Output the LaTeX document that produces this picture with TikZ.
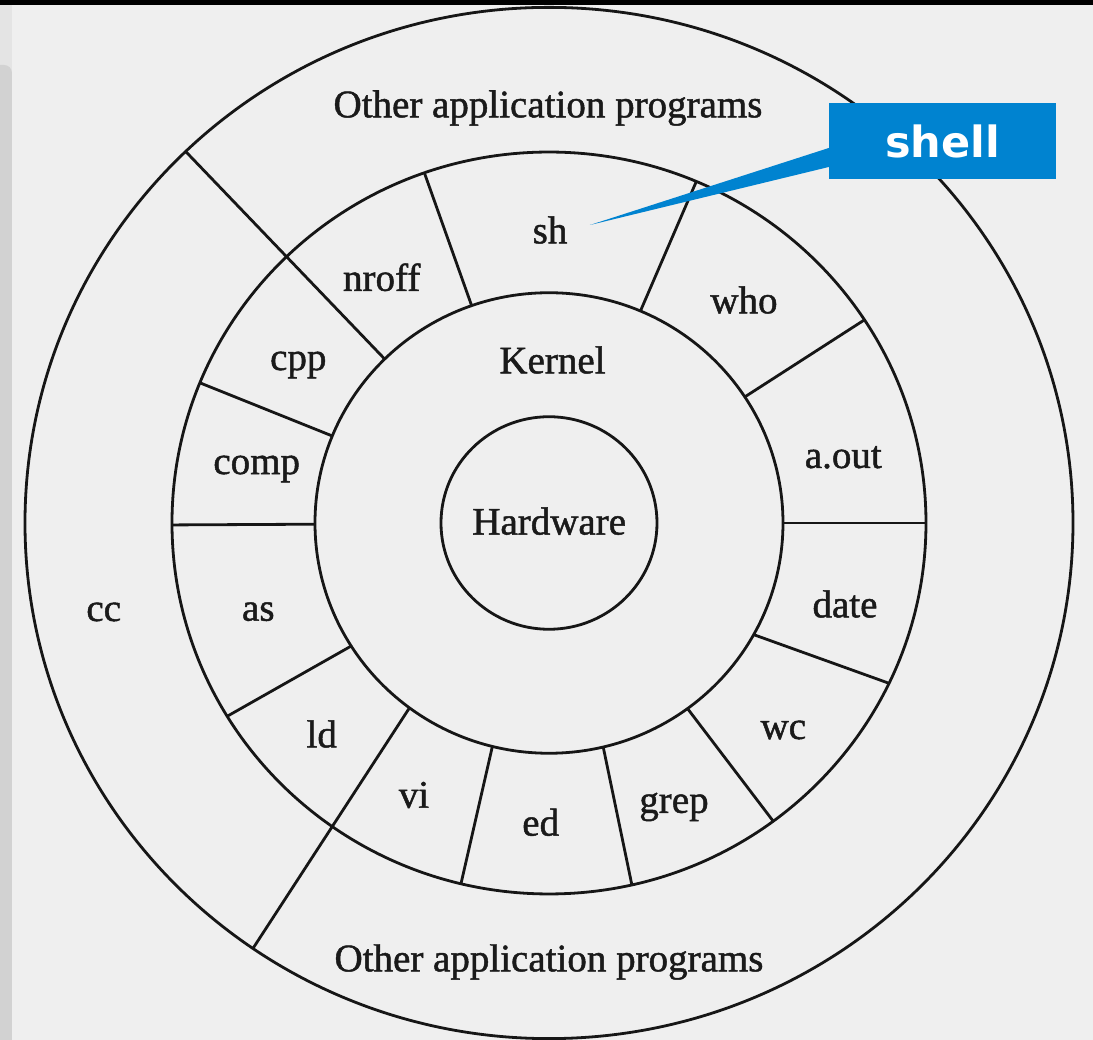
\documentclass[tikz,border=0pt]{standalone}
\usepackage{fontspec}
\setmainfont{Liberation Serif}[FakeBold=1.2]
\newfontfamily\calloutfont{DejaVu Sans}
\definecolor{bgc}{HTML}{EFEFEF}
\definecolor{stripa}{HTML}{E4E4E4}
\definecolor{stripb}{HTML}{D2D2D2}
\definecolor{linec}{HTML}{161616}
\definecolor{textc}{HTML}{1A1A1A}
\definecolor{calloutc}{HTML}{0083D0}
\begin{document}
\begin{tikzpicture}[x=1pt,y=1pt,
  ringline/.style={line width=2.8pt, draw=linec},
  lbl/.style={font=\fontsize{39}{41}\selectfont, text=textc, inner sep=0pt},
  shellbox/.style={fill=calloutc, text=white, minimum width=227pt, minimum height=76pt,
    inner sep=0pt, font=\calloutfont\bfseries\fontsize{43}{45}\selectfont}]
\useasboundingbox (-549,-517) rectangle (544,523);
% background
\fill[bgc] (-549,-517) rectangle (544,523);
\fill[stripa] (-549,-517) rectangle (-537,518);
\fill[stripb, rounded corners=8pt] (-562,-530) rectangle (-537,458);
\fill[black] (-549,518) rectangle (544,523);
% rings (slightly squashed scan)
\begin{scope}[yscale=0.984]
  \draw[ringline] (0,0) circle (108);
  \draw[ringline] (0,0) circle (234);
  \draw[ringline] (0,0) circle (377);
  \draw[ringline] (0,0) circle (524);
  % utility dividers
  \draw[ringline] (109.3:234) -- (109.3:377);
  \draw[ringline] (134.6:234) -- (133.9:524);
  \draw[ringline] (157.8:234) -- (157.8:377);
  \draw[ringline] (180.3:234) -- (180.3:377);
  \draw[ringline] (212.3:234) -- (211.4:377);
  \draw[ringline] (233.4:234) -- (235.6:524);
  \draw[ringline] (256:234) -- (256.5:377);
  \draw[ringline] (283.4:234) -- (282.7:377);
  \draw[ringline] (306.3:234) -- (306.5:377);
  \draw[ringline] (331:234) -- (334.4:377);
  \draw[ringline] (0:234) -- (0:377);
  \draw[ringline] (33.2:234) -- (33.2:377);
  \draw[ringline] (67:234) -- (67:377);
\end{scope}
% labels
\node[lbl] (hw) at (0.2,1.8) {Hardware};
\node[lbl] (kernel) at (3.5,163) {Kernel};
\node[lbl] (sh) at (1,293) {sh};
\node[lbl] (nroff) at (-167.3,245.7) {nroff};
\node[lbl] (cpp) at (-250.7,158) {cpp};
\node[lbl] (comp) at (-292.3,54) {comp};
\node[lbl] (as) at (-290.7,-88.7) {as};
\node[lbl] (ld) at (-227.3,-211) {ld};
\node[lbl] (vi) at (-135,-272) {vi};
\node[lbl] (ed) at (-8.3,-299.3) {ed};
\node[lbl] (grep) at (125,-284) {grep};
\node[lbl] (wc) at (234.3,-207) {wc};
\node[lbl] (date) at (296,-81) {date};
\node[lbl] (aout) at (294.3,65.7) {a.out};
\node[lbl] (who) at (195,223) {who};
\node[lbl] (cc) at (-445.3,-89) {cc};
\node[lbl] (othertop) at (-1,415) {Other application programs};
\node[lbl] (otherbot) at (0,-439) {Other application programs};
% callout
\node[shellbox] (shell) at (393.5,382) {shell};
\coordinate (shtip) at (41,298);
\fill[calloutc] ([yshift=-7pt]shell.west) -- (shtip) -- ([yshift=-26pt]shell.west) -- cycle;
\end{tikzpicture}
\end{document}
